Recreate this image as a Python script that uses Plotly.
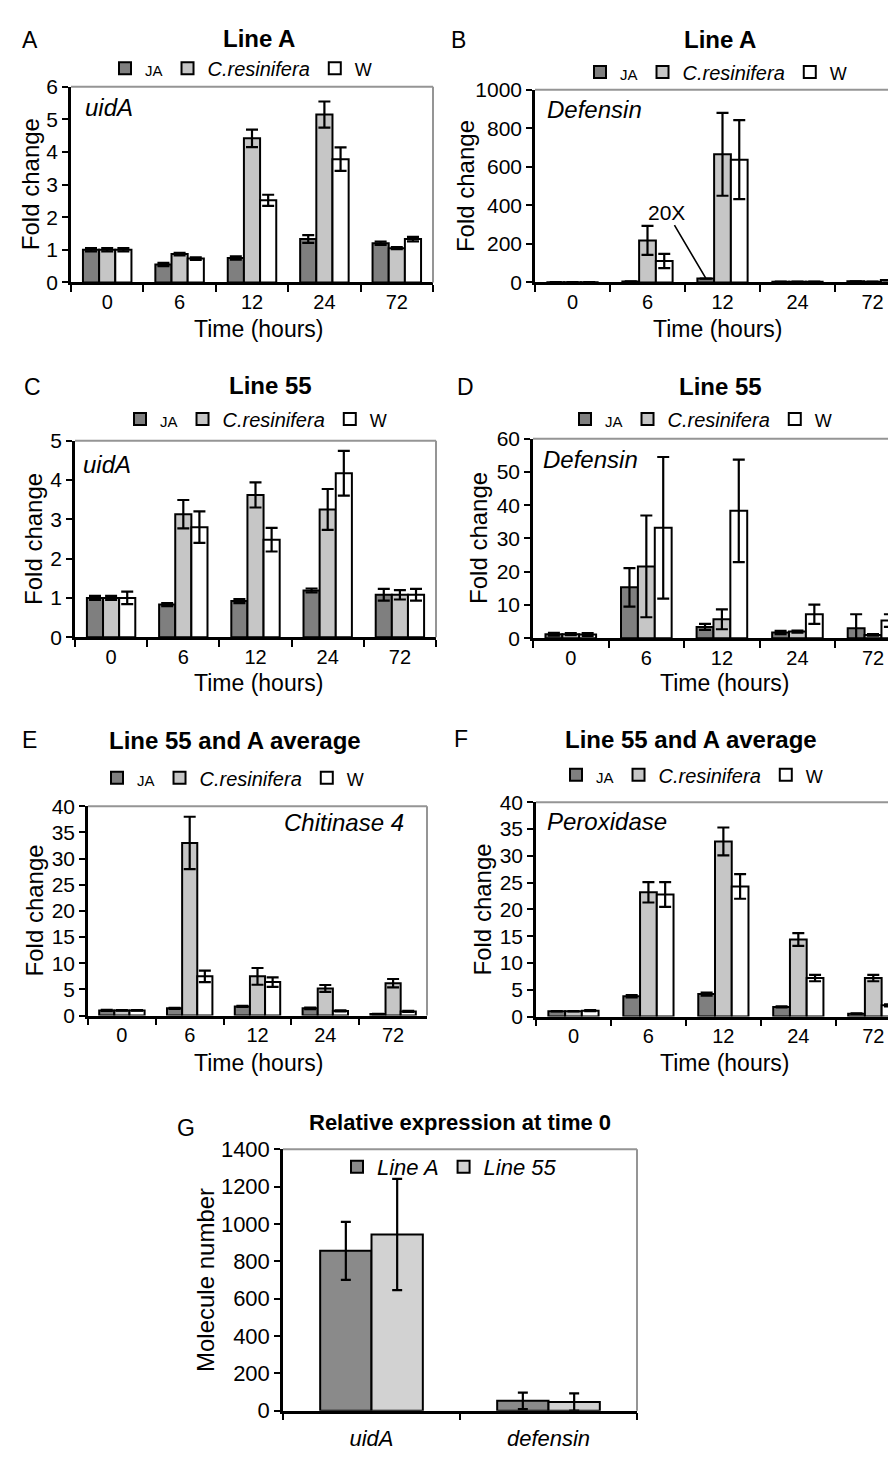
import plotly.graph_objects as go

W, H = 896, 1457
FONT = "Liberation Sans, Arial, sans-serif"

times = ["0", "6", "12", "24", "72"]
series_names = ["<span style='font-size:15px'>JA</span>",
                "<i>C.resinifera</i>",
                "<span style='font-size:18px'>W</span>"]

# Panel A: Line A, uidA
a_ja = [1.0, 0.55, 0.75, 1.33, 1.2]
a_ja_err = [0.05, 0.05, 0.05, 0.12, 0.05]
a_cr = [1.0, 0.87, 4.42, 5.15, 1.05]
a_cr_err = [0.05, 0.04, 0.27, 0.4, 0.03]
a_w = [1.0, 0.73, 2.52, 3.78, 1.33]
a_w_err = [0.05, 0.04, 0.17, 0.36, 0.07]

# Panel B: Line A, Defensin
b_ja = [1, 5, 20, 4, 6]
b_ja_err = [0, 0, 0, 0, 0]
b_cr = [1, 218, 665, 4, 4]
b_cr_err = [0, 75, 215, 0, 0]
b_w = [1, 111, 637, 4, 12]
b_w_err = [0, 37, 205, 0, 0]

# Panel C: Line 55, uidA
c_ja = [1.0, 0.83, 0.92, 1.19, 1.08]
c_ja_err = [0.05, 0.04, 0.05, 0.05, 0.15]
c_cr = [1.0, 3.13, 3.62, 3.25, 1.08]
c_cr_err = [0.05, 0.36, 0.32, 0.52, 0.12]
c_w = [1.0, 2.8, 2.48, 4.17, 1.08]
c_w_err = [0.16, 0.4, 0.3, 0.57, 0.15]

# Panel D: Line 55, Defensin
d_ja = [1.2, 15.3, 3.4, 1.7, 3.0]
d_ja_err = [0.4, 5.8, 0.9, 0.5, 4.2]
d_cr = [1.2, 21.6, 5.7, 2.0, 1.0]
d_cr_err = [0.3, 15.3, 3.0, 0.3, 0.2]
d_w = [1.1, 33.2, 38.3, 7.2, 5.3]
d_w_err = [0.4, 21.3, 15.4, 2.9, 1.9]

# Panel E: average, Chitinase 4
e_ja = [1.0, 1.4, 1.75, 1.4, 0.3]
e_ja_err = [0.1, 0.1, 0.1, 0.15, 0.05]
e_cr = [1.0, 33.0, 7.5, 5.2, 6.2]
e_cr_err = [0.05, 5.0, 1.6, 0.65, 0.8]
e_w = [1.0, 7.5, 6.4, 0.9, 0.8]
e_w_err = [0.05, 1.1, 0.9, 0.1, 0.1]

# Panel F: average, Peroxidase
f_ja = [1.0, 3.8, 4.2, 1.8, 0.55]
f_ja_err = [0.05, 0.2, 0.3, 0.1, 0.05]
f_cr = [1.0, 23.2, 32.7, 14.4, 7.2]
f_cr_err = [0.05, 1.9, 2.6, 1.2, 0.6]
f_w = [1.1, 22.8, 24.3, 7.2, 2.1]
f_w_err = [0.1, 2.3, 2.3, 0.6, 0.2]

# Panel G: relative expression at time 0
genes = ["<i>uidA</i>", "<i>defensin</i>"]
g_lineA = [856, 53]
g_lineA_err = [155, 44]
g_line55 = [944, 47]
g_line55_err = [298, 46]

COL_JA = "#7f7f7f"
COL_CR = "#c6c6c6"
COL_W = "#ffffff"
colors = [COL_JA, COL_CR, COL_W]


def px_x(x):
    return x / W


def px_y(y):
    return 1 - y / H


fig = go.Figure()
annotations = []
shapes = []

panels = [
    dict(k=1, box=(63, 425, 68, 267), yr=[0, 6], dt=1, xr=[-0.5, 4.5],
         data=[(a_ja, a_ja_err), (a_cr, a_cr_err), (a_w, a_w_err)],
         leg=(113, 49), frame=True),
    dict(k=2, box=(527, 896, 71, 267), yr=[0, 1000], dt=200, xr=[-0.5, 4.42],
         data=[(b_ja, b_ja_err), (b_cr, b_cr_err), (b_w, b_w_err)],
         leg=(588, 53), frame=False),
    dict(k=3, box=(67, 428, 428, 628), yr=[0, 5], dt=1, xr=[-0.5, 4.5],
         data=[(c_ja, c_ja_err), (c_cr, c_cr_err), (c_w, c_w_err)],
         leg=(128, 406), frame=True),
    dict(k=4, box=(525, 896, 426, 629), yr=[0, 60], dt=10, xr=[-0.5, 4.41],
         data=[(d_ja, d_ja_err), (d_cr, d_cr_err), (d_w, d_w_err)],
         leg=(573, 406), frame=False),
    dict(k=5, box=(80, 419, 800, 1013), yr=[0, 40], dt=5, xr=[-0.5, 4.5],
         data=[(e_ja, e_ja_err), (e_cr, e_cr_err), (e_w, e_w_err)],
         leg=(105, 771), frame=True),
    dict(k=6, box=(528, 896, 796, 1014), yr=[0, 40], dt=5, xr=[-0.5, 4.41],
         data=[(f_ja, f_ja_err), (f_cr, f_cr_err), (f_w, f_w_err)],
         leg=(564, 768), frame=False),
]

layout_axes = {}
legends = {}

for p in panels:
    k = p["k"]
    xa = "x" if k == 1 else f"x{k}"
    ya = "y" if k == 1 else f"y{k}"
    lg = "legend" if k == 1 else f"legend{k}"
    x0, x1, y0, y1 = p["box"]
    for (vals, errs), name, col in zip(p["data"], series_names, colors):
        fig.add_trace(go.Bar(
            x=times, y=vals, name=name, xaxis=xa, yaxis=ya, legend=lg,
            marker=dict(color=col, line=dict(color="black", width=2)),
            error_y=dict(type="data", array=errs, visible=True,
                         color="black", thickness=2.2, width=6),
        ))
    xkey = "xaxis" if k == 1 else f"xaxis{k}"
    ykey = "yaxis" if k == 1 else f"yaxis{k}"
    layout_axes[xkey] = dict(
        domain=[px_x(x0), min(px_x(x1), 1.0)], anchor=ya, type="category",
        range=p["xr"], tickson="boundaries", ticks="outside", ticklen=7,
        tickwidth=2, tickcolor="black", showline=True, linecolor="black",
        linewidth=2.5, showgrid=False, zeroline=False,
        tickfont=dict(family=FONT, size=20, color="black"), fixedrange=True)
    layout_axes[ykey] = dict(
        domain=[px_y(y1), px_y(y0)], anchor=xa, range=p["yr"], dtick=p["dt"],
        tick0=0, ticks="outside", ticklen=6, tickwidth=2, tickcolor="black",
        showline=True, linecolor="black", linewidth=2.5, showgrid=False,
        zeroline=False, tickfont=dict(family=FONT, size=21, color="black"),
        fixedrange=True)
    lx, ly = p["leg"]
    legends[lg] = dict(
        orientation="h", x=px_x(lx - 16), y=px_y(ly), xanchor="left",
        yanchor="middle", bgcolor="rgba(0,0,0,0)",
        font=dict(family=FONT, size=20, color="black"), itemclick=False,
        itemdoubleclick=False, tracegroupgap=0)
    shapes.append(dict(type="line", xref=f"{xa} domain", yref=f"{ya} domain",
                       x0=0, x1=1, y0=1, y1=1,
                       line=dict(color="#959595", width=2)))
    if p["frame"]:
        shapes.append(dict(type="line", xref=f"{xa} domain", yref=f"{ya} domain",
                           x0=1, x1=1, y0=0, y1=1,
                           line=dict(color="#959595", width=2)))

# Panel G
g_box = (275, 629, 1149, 1415)
fig.add_trace(go.Bar(
    x=genes, y=g_lineA, name="<i>Line A</i>", xaxis="x7", yaxis="y7",
    legend="legend7", width=0.29, offset=-0.29,
    marker=dict(color="#8a8a8a", line=dict(color="black", width=2)),
    error_y=dict(type="data", array=g_lineA_err, visible=True,
                 color="black", thickness=2.2, width=5)))
fig.add_trace(go.Bar(
    x=genes, y=g_line55, name="<i>Line 55</i>", xaxis="x7", yaxis="y7",
    legend="legend7", width=0.29, offset=0.0,
    marker=dict(color="#d2d2d2", line=dict(color="black", width=2)),
    error_y=dict(type="data", array=g_line55_err, visible=True,
                 color="black", thickness=2.2, width=5)))
x0, x1, y0, y1 = g_box
layout_axes["xaxis7"] = dict(
    domain=[px_x(x0), px_x(x1)], anchor="y7", type="category",
    range=[-0.5, 1.5], tickson="boundaries", ticks="outside", ticklen=7,
    tickwidth=2, tickcolor="black", showline=True, linecolor="black",
    linewidth=2.5, showgrid=False, zeroline=False, ticklabelstandoff=6,
    tickfont=dict(family=FONT, size=22, color="black"), fixedrange=True)
layout_axes["yaxis7"] = dict(
    domain=[px_y(y1), px_y(y0)], anchor="x7", range=[0, 1400], dtick=200,
    ticks="outside", ticklen=6, tickwidth=2, tickcolor="black",
    showline=True, linecolor="black", linewidth=2.5, showgrid=False,
    zeroline=False, tickfont=dict(family=FONT, size=22, color="black"),
    fixedrange=True)
legends["legend7"] = dict(
    orientation="h", x=px_x(345 - 16), y=px_y(1167), xanchor="left",
    yanchor="middle", bgcolor="rgba(0,0,0,0)",
    font=dict(family=FONT, size=22, color="black"), itemclick=False,
    itemdoubleclick=False)
shapes.append(dict(type="line", xref="x7 domain", yref="y7 domain",
                   x0=0, x1=1, y0=1, y1=1, line=dict(color="#959595", width=2)))
shapes.append(dict(type="line", xref="x7 domain", yref="y7 domain",
                   x0=1, x1=1, y0=0, y1=1, line=dict(color="#959595", width=2)))


def txt(x, y, s, size=21, bold=False, italic=False, xanchor="center",
        angle=0):
    if bold:
        s = f"<b>{s}</b>"
    if italic:
        s = f"<i>{s}</i>"
    annotations.append(dict(
        x=px_x(x), y=px_y(y), xref="paper", yref="paper", text=s,
        showarrow=False, xanchor=xanchor, yanchor="middle", textangle=angle,
        font=dict(family=FONT, size=size, color="black")))


for lab, x, y in [("A", 22, 20), ("B", 450, 20), ("C", 24, 373),
                  ("D", 457, 373), ("E", 21, 733), ("F", 453, 732),
                  ("G", 178, 1127)]:
    txt(x, y, lab, size=23)

for s, x, y in [("Line A", 251, 19), ("Line A", 712, 20),
                ("Line 55", 262, 372), ("Line 55", 712, 373),
                ("Line 55 and A average", 227, 733),
                ("Line 55 and A average", 683, 732),
                ("Relative expression at time 0", 452, 1122)]:
    txt(x, y, s, size=24 if "Relative" not in s else 22, bold=True)

for x, y in [(251, 314), (710, 314), (251, 675), (717, 675),
             (251, 1061), (717, 1061)]:
    txt(x, y, "Time (hours)", size=23)
for x, y in [(22, 167), (457, 169), (26, 528), (471, 527),
             (26, 906), (474, 905)]:
    txt(x, y, "Fold change", size=24, angle=-90)
txt(197, 1282, "Molecule number", size=24, angle=-90)

txt(75, 89, "uidA", size=24, italic=True, xanchor="left")
txt(537, 91, "Defensin", size=24, italic=True, xanchor="left")
txt(73, 452, "uidA", size=24, italic=True, xanchor="left")
txt(533, 447, "Defensin", size=24, italic=True, xanchor="left")
txt(398, 817, "Chitinase 4", size=24, italic=True, xanchor="right")
txt(537, 815, "Peroxidase", size=24, italic=True, xanchor="left")

annotations.append(dict(
    x=2 - 0.67 / 3, y=b_ja[2] + 2, xref="x2", yref="y2", text="20X",
    showarrow=True, arrowhead=0, arrowwidth=1.6, arrowcolor="black",
    ax=-39, ay=-66, standoff=0,
    font=dict(family=FONT, size=21, color="black")))

fig.update_layout(
    width=W, height=H, margin=dict(l=0, r=0, t=0, b=0),
    paper_bgcolor="white", plot_bgcolor="white",
    barmode="group", bargap=0.33, bargroupgap=0.0,
    showlegend=True, annotations=annotations, shapes=shapes,
    font=dict(family=FONT, color="black"),
    **layout_axes, **legends)

fig.write_html("out.html")
